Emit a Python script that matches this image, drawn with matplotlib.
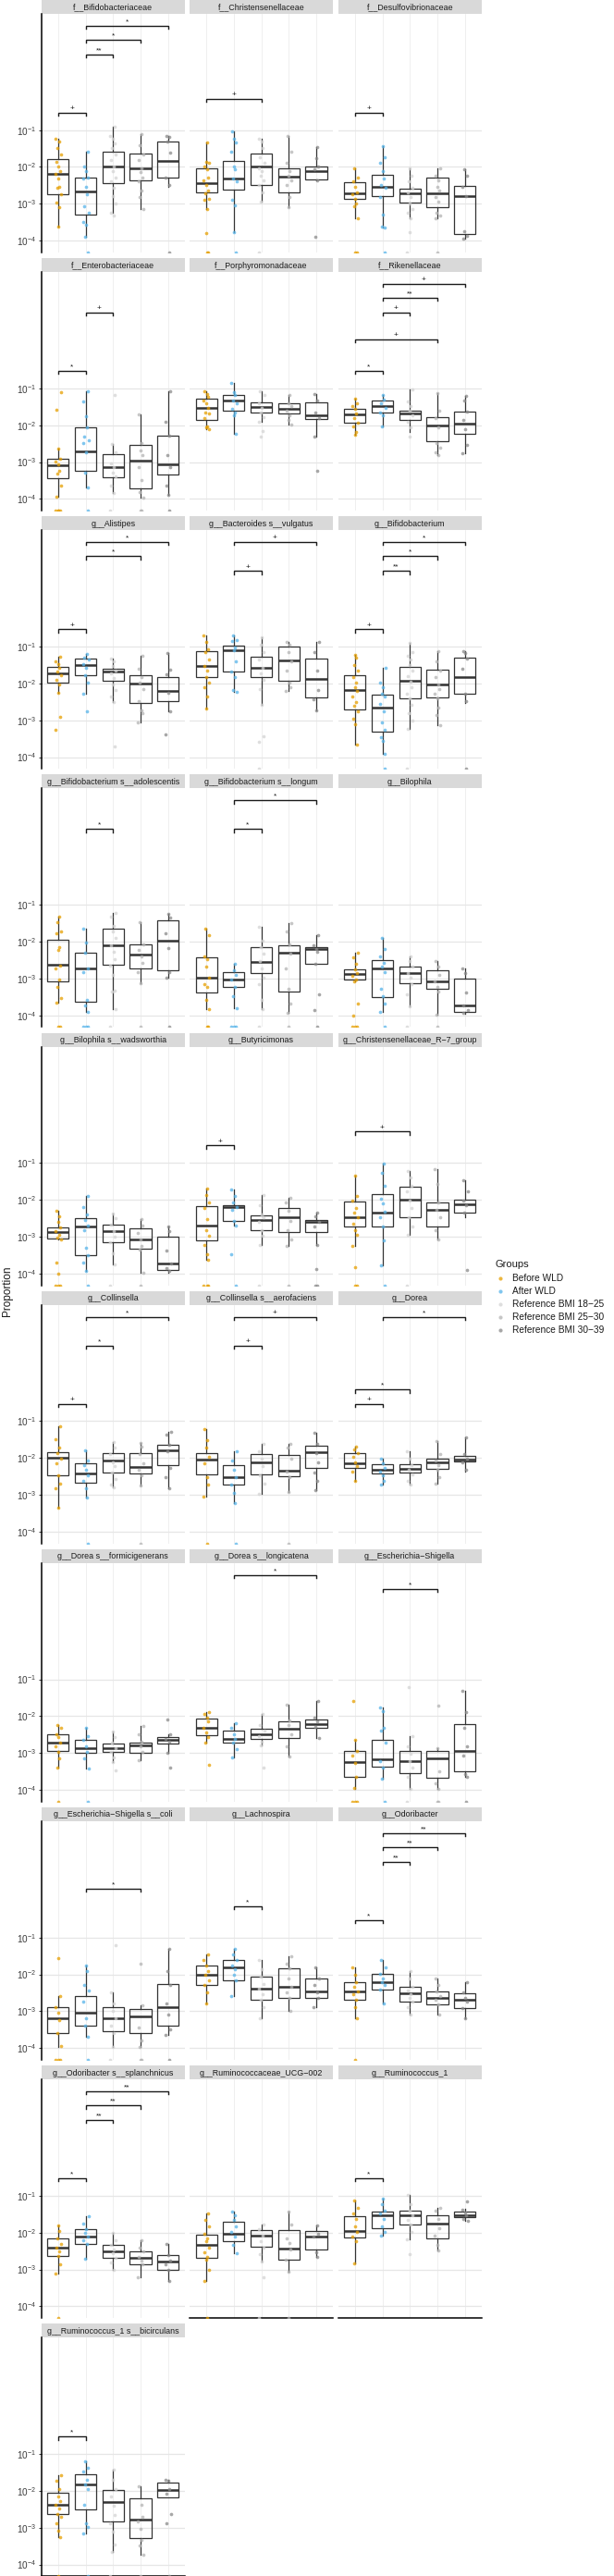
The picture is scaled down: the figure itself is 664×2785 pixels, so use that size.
import numpy as np
import matplotlib
matplotlib.use("Agg")
import matplotlib.pyplot as plt
from matplotlib.ticker import NullLocator, FixedLocator

plt.rcParams['font.family'] = ['Liberation Sans', 'DejaVu Sans']
plt.rcParams['mathtext.fontset'] = 'custom'
plt.rcParams['mathtext.rm'] = 'Liberation Sans'
plt.rcParams['mathtext.it'] = 'Liberation Sans:italic'
plt.rcParams['mathtext.bf'] = 'Liberation Sans:bold'

# ---------------- data ----------------
PANELS = ["f__Bifidobacteriaceae", "f__Christensenellaceae", "f__Desulfovibrionaceae",
          "f__Enterobacteriaceae", "f__Porphyromonadaceae", "f__Rikenellaceae",
          "g__Alistipes", "g__Bacteroides s__vulgatus", "g__Bifidobacterium",
          "g__Bifidobacterium s__adolescentis", "g__Bifidobacterium s__longum", "g__Bilophila",
          "g__Bilophila s__wadsworthia", "g__Butyricimonas", "g__Christensenellaceae_R\u22127_group",
          "g__Collinsella", "g__Collinsella s__aerofaciens", "g__Dorea",
          "g__Dorea s__formicigenerans", "g__Dorea s__longicatena", "g__Escherichia\u2212Shigella",
          "g__Escherichia\u2212Shigella s__coli", "g__Lachnospira", "g__Odoribacter",
          "g__Odoribacter s__splanchnicus", "g__Ruminococcaceae_UCG\u2212002", "g__Ruminococcus_1",
          "g__Ruminococcus_1 s__bicirculans"]
GROUPS = ["Before WLD", "After WLD", "Reference BMI 18\u221225",
          "Reference BMI 25\u221230", "Reference BMI 30\u221239"]

# box statistics, log10(proportion): [whisker low, q1, median, q3, whisker high]
BOX_B = [[-3.63,-2.73,-2.18,-1.78,-1.23],[-3.15,-2.7,-2.43,-2.03,-1.33],[-3.38,-2.86,-2.72,-2.42,-2.03],
         [-3.94,-3.43,-3.08,-2.9,-2.63],[-2.11,-1.86,-1.54,-1.29,-1.08],[-2.25,-1.93,-1.7,-1.55,-1.28],
         [-2.25,-1.99,-1.72,-1.55,-1.28],[-2.67,-1.84,-1.53,-1.12,-0.69],[-3.65,-2.72,-2.18,-1.78,-1.22],
         [-3.65,-3.08,-2.63,-1.94,-1.32],[-3.83,-3.37,-2.98,-2.44,-1.65],[-3.08,-3.04,-2.88,-2.75,-2.3],
         [-3.08,-3.04,-2.88,-2.75,-2.3],[-3.63,-3.11,-2.69,-2.18,-1.69],[-3.26,-2.72,-2.47,-2.05,-1.35],
         [-3.36,-2.47,-2.0,-1.84,-1.15],[-3.05,-2.44,-2.05,-1.88,-1.22],[-2.63,-2.27,-2.15,-1.88,-1.69],
         [-3.4,-2.95,-2.71,-2.48,-2.25],[-2.71,-2.51,-2.32,-2.07,-1.88],[-3.97,-3.65,-3.25,-2.95,-2.63],
         [-3.97,-3.6,-3.2,-2.9,-2.6],[-2.8,-2.3,-2.02,-1.76,-1.45],[-3.2,-2.69,-2.47,-2.2,-1.8],
         [-3.1,-2.64,-2.42,-2.16,-1.8],[-3.3,-2.68,-2.34,-2.05,-1.47],[-2.83,-2.14,-1.95,-1.56,-1.12],
         [-3.25,-2.62,-2.38,-2.06,-1.57]]
BOX_A = [[-3.9,-3.28,-2.67,-2.3,-1.59],[-3.78,-2.61,-2.32,-1.83,-1.03],[-3.65,-2.78,-2.54,-2.22,-1.44],
         [-3.69,-3.25,-2.72,-2.05,-1.07],[-2.23,-1.62,-1.34,-1.19,-0.86],[-2.03,-1.67,-1.49,-1.32,-1.19],
         [-2.28,-1.78,-1.51,-1.33,-1.2],[-2.23,-1.67,-1.11,-0.97,-0.69],[-3.9,-3.32,-2.65,-2.3,-1.59],
         [-3.9,-3.63,-2.73,-2.3,-1.65],[-3.8,-3.23,-3.03,-2.83,-2.61],[-3.92,-3.5,-2.72,-2.5,-1.9],
         [-3.92,-3.5,-2.72,-2.5,-1.9],[-2.71,-2.58,-2.21,-2.15,-1.73],[-3.78,-2.72,-2.36,-1.84,-1.03],
         [-3.08,-2.68,-2.43,-2.14,-1.79],[-3.22,-2.73,-2.53,-2.19,-1.83],[-2.72,-2.43,-2.32,-2.18,-2.01],
         [-3.43,-2.99,-2.88,-2.63,-2.32],[-3.13,-2.72,-2.61,-2.4,-2.19],[-3.69,-3.37,-3.17,-2.65,-1.76],
         [-3.69,-3.4,-3.05,-2.6,-1.75],[-2.6,-2.16,-1.8,-1.62,-1.3],[-2.8,-2.42,-2.2,-1.98,-1.6],
         [-2.7,-2.3,-2.1,-1.9,-1.55],[-2.55,-2.24,-2.03,-1.7,-1.43],[-2.08,-1.87,-1.52,-1.43,-1.08],
         [-3.16,-2.51,-1.83,-1.55,-1.2]]
BOX_R1 = [[-3.23,-2.44,-1.98,-1.59,-0.9],[-2.94,-2.48,-1.98,-1.63,-1.23],[-3.4,-2.97,-2.72,-2.58,-2.03],
          [-3.83,-3.41,-3.15,-2.79,-2.51],[-1.9,-1.67,-1.51,-1.37,-1.08],[-2.19,-1.86,-1.68,-1.6,-1.03],
          [-2.51,-1.92,-1.67,-1.61,-1.33],[-2.57,-1.83,-1.59,-1.29,-0.75],[-3.23,-2.4,-1.93,-1.55,-0.9],
          [-3.83,-2.63,-2.09,-1.65,-1.22],[-3.83,-2.86,-2.55,-2.15,-1.59],[-3.75,-3.14,-2.85,-2.68,-2.4],
          [-3.75,-3.14,-2.86,-2.67,-2.38],[-3.23,-2.83,-2.55,-2.42,-1.86],[-2.94,-2.48,-2.01,-1.65,-1.23],
          [-2.79,-2.39,-2.08,-1.88,-1.58],[-2.98,-2.45,-2.12,-1.9,-1.61],[-2.72,-2.4,-2.3,-2.17,-1.82],
          [-3.25,-2.97,-2.88,-2.75,-2.42],[-2.8,-2.61,-2.5,-2.34,-1.93],[-3.97,-3.55,-3.22,-2.95,-2.53],
          [-3.97,-3.55,-3.2,-2.9,-2.5],[-3.2,-2.69,-2.38,-2.07,-1.6],[-3.1,-2.73,-2.51,-2.33,-1.9],
          [-3.0,-2.69,-2.51,-2.33,-2.0],[-2.78,-2.38,-2.08,-1.93,-1.78],[-2.18,-1.78,-1.53,-1.4,-0.97],
          [-3.66,-2.84,-2.31,-1.97,-1.42]]
BOX_R2 = [[-3.13,-2.36,-2.03,-1.63,-1.11],[-3.08,-2.69,-2.26,-2.05,-1.15],[-3.4,-3.09,-2.72,-2.3,-2.05],
          [-3.97,-3.72,-2.97,-2.53,-1.72],[-1.98,-1.69,-1.55,-1.41,-1.17],[-2.82,-2.43,-2.0,-1.78,-1.12],
          [-3.07,-2.53,-2.01,-1.78,-1.25],[-2.21,-1.93,-1.38,-1.0,-0.88],[-3.13,-2.37,-2.03,-1.63,-1.12],
          [-3.13,-2.72,-2.36,-2.07,-1.47],[-3.94,-3.36,-2.29,-2.09,-1.5],[-3.98,-3.27,-3.08,-2.78,-2.53],
          [-3.98,-3.32,-3.08,-2.78,-2.53],[-3.25,-2.88,-2.48,-2.23,-1.95],[-3.08,-2.72,-2.28,-2.07,-1.17],
          [-2.75,-2.43,-2.25,-1.86,-1.59],[-2.92,-2.5,-2.34,-1.93,-1.61],[-2.69,-2.29,-2.13,-2.02,-1.55],
          [-3.2,-2.99,-2.8,-2.71,-2.27],[-3.09,-2.59,-2.34,-2.15,-1.68],[-3.97,-3.67,-3.15,-2.95,-2.88],
          [-3.97,-3.6,-3.15,-2.95,-2.85],[-3.0,-2.64,-2.33,-1.84,-1.5],[-3.1,-2.82,-2.64,-2.47,-2.1],
          [-3.2,-2.87,-2.69,-2.51,-2.2],[-3.05,-2.74,-2.43,-1.93,-1.43],[-2.49,-2.16,-1.76,-1.52,-1.34],
          [-3.74,-3.28,-2.78,-2.21,-1.88]]
BOX_R3 = [[-2.53,-2.28,-1.83,-1.3,-1.15],[-2.36,-2.33,-2.11,-1.98,-1.45],[-3.94,-3.83,-2.8,-2.51,-2.06],
          [-3.88,-3.35,-3.05,-2.29,-1.07],[-2.32,-1.83,-1.74,-1.38,-1.15],[-2.75,-2.23,-1.96,-1.63,-1.21],
          [-2.75,-2.47,-2.21,-1.84,-1.19],[-2.73,-2.38,-1.88,-1.32,-0.88],[-2.53,-2.28,-1.83,-1.3,-1.13],
          [-2.97,-2.77,-1.98,-1.42,-1.25],[-2.6,-2.6,-2.19,-2.15,-1.82],[-3.97,-3.91,-3.73,-3.0,-2.72],
          [-3.97,-3.91,-3.73,-3.0,-2.72],[-3.22,-2.87,-2.6,-2.54,-2.35],[-2.48,-2.34,-2.12,-2.0,-1.46],
          [-2.82,-2.19,-1.8,-1.64,-1.29],[-2.88,-2.26,-1.84,-1.68,-1.32],[-2.36,-2.1,-2.05,-1.94,-1.44],
          [-3.0,-2.74,-2.63,-2.57,-2.48],[-2.6,-2.32,-2.21,-2.09,-1.58],[-3.65,-3.5,-2.94,-2.22,-1.32],
          [-3.65,-3.4,-2.9,-2.25,-1.3],[-2.9,-2.64,-2.47,-2.1,-1.8],[-3.2,-2.91,-2.69,-2.51,-2.2],
          [-3.3,-3.0,-2.78,-2.6,-2.3],[-2.66,-2.45,-2.1,-1.95,-1.81],[-1.68,-1.58,-1.52,-1.43,-1.35],
          [-2.17,-2.17,-1.97,-1.77,-1.7]]

# individual samples, log10(proportion)
PTS_B = [[-1.23,-1.3,-1.48,-1.65,-1.86,-1.98,-2.11,-2.19,-2.32,-2.53,-2.57,-2.73,-2.97,-3.08,-3.63],
         [-1.33,-1.86,-1.9,-1.98,-2.07,-2.3,-2.36,-2.48,-2.65,-2.72,-2.86,-2.9,-3.15,-3.8],
         [-2.03,-2.28,-2.4,-2.53,-2.69,-2.73,-2.86,-2.98,-3.07,-3.38],
         [-1.11,-1.58,-2.63,-2.9,-2.98,-3.07,-3.23,-3.32,-3.65,-3.94],
         [-1.08,-1.15,-1.23,-1.32,-1.4,-1.54,-1.65,-1.69,-1.82,-2.03,-2.07,-2.11],
         [-1.28,-1.4,-1.48,-1.57,-1.69,-1.82,-1.94,-2.03,-2.19,-2.25],
         [-1.28,-1.4,-1.48,-1.57,-1.69,-1.78,-1.9,-2.03,-2.25,-2.92,-3.25],
         [-0.69,-0.88,-1.07,-1.15,-1.36,-1.53,-1.65,-1.82,-1.98,-2.11,-2.36,-2.67],
         [-1.22,-1.3,-1.5,-1.65,-1.84,-1.98,-2.1,-2.2,-2.35,-2.5,-2.6,-2.75,-2.95,-3.1,-3.65],
         [-1.32,-1.48,-1.73,-1.78,-2.15,-2.23,-2.65,-2.73,-3.03,-3.23,-3.53,-3.65],
         [-1.65,-1.82,-2.4,-2.48,-2.69,-2.98,-3.15,-3.23,-3.57,-3.83],
         [-2.3,-2.44,-2.61,-2.75,-2.86,-2.94,-3.03,-3.08,-3.69,-4.0],
         [-2.3,-2.45,-2.6,-2.75,-2.85,-2.95,-3.02,-3.08,-3.7,-4.0],
         [-1.69,-1.86,-2.07,-2.23,-2.53,-2.82,-2.98,-3.23,-3.47,-3.63],
         [-1.35,-1.9,-2.03,-2.23,-2.36,-2.48,-2.65,-2.82,-2.94,-3.26,-3.82],
         [-1.15,-1.5,-1.73,-1.86,-2.03,-2.15,-2.48,-2.69,-2.82,-3.36],
         [-1.22,-1.53,-1.73,-1.98,-2.15,-2.53,-2.73,-3.05],
         [-1.69,-1.78,-1.86,-1.98,-2.11,-2.23,-2.36,-2.63],
         [-2.25,-2.32,-2.48,-2.57,-2.73,-2.82,-2.98,-3.15,-3.4],
         [-1.88,-1.94,-2.03,-2.15,-2.32,-2.44,-2.57,-2.71,-3.32],
         [-1.58,-2.63,-2.94,-3.07,-3.28,-3.65,-3.94],
         [-1.55,-2.6,-2.9,-3.05,-3.25,-3.6,-3.95],
         [-1.45,-1.6,-1.76,-1.9,-2.02,-2.15,-2.3,-2.5,-2.8],
         [-1.8,-2.0,-2.2,-2.35,-2.47,-2.55,-2.69,-2.9,-3.2],
         [-1.8,-1.95,-2.16,-2.3,-2.42,-2.5,-2.64,-2.85,-3.1],
         [-1.47,-1.66,-1.83,-2.03,-2.16,-2.24,-2.41,-2.53,-2.66,-2.74,-3.0,-3.3],
         [-1.12,-1.33,-1.49,-1.62,-1.83,-1.99,-2.12,-2.24,-2.83],
         [-1.57,-1.74,-1.95,-2.16,-2.28,-2.37,-2.49,-2.62,-2.7,-2.87,-3.08,-3.25]]
PTS_A = [[-1.59,-1.98,-2.11,-2.28,-2.32,-2.53,-2.73,-3.07,-3.23,-3.48,-3.57,-3.9],
         [-1.03,-1.23,-1.33,-1.58,-1.98,-2.07,-2.32,-2.4,-2.9,-3.03,-3.78],
         [-1.44,-1.73,-1.9,-2.11,-2.32,-2.48,-2.57,-2.82,-3.28,-3.61,-3.65],
         [-1.07,-1.36,-1.76,-2.07,-2.32,-2.4,-2.48,-2.73,-3.28,-3.69],
         [-0.86,-1.11,-1.19,-1.32,-1.4,-1.57,-1.65,-1.73,-2.23],
         [-1.19,-1.3,-1.4,-1.53,-1.65,-1.73,-2.03],
         [-1.2,-1.3,-1.36,-1.48,-1.57,-1.78,-1.98,-2.28,-2.75],
         [-0.69,-0.82,-0.86,-1.03,-1.11,-1.4,-1.69,-1.82,-2.19,-2.23],
         [-1.59,-1.98,-2.1,-2.28,-2.35,-2.55,-2.75,-3.05,-3.25,-3.45,-3.55,-3.9],
         [-1.65,-2.03,-2.3,-2.73,-2.82,-3.57,-3.73,-3.9],
         [-2.61,-2.78,-2.9,-3.03,-3.23,-3.48,-3.8],
         [-1.9,-2.19,-2.4,-2.57,-2.69,-2.82,-3.28,-3.48,-3.69,-3.92],
         [-1.9,-2.2,-2.4,-2.55,-2.7,-2.82,-3.3,-3.5,-3.7,-3.92],
         [-1.73,-1.9,-2.07,-2.19,-2.28,-2.57,-2.71,-3.47],
         [-1.03,-1.28,-1.61,-1.98,-2.11,-2.32,-2.48,-2.73,-3.11,-3.78],
         [-1.79,-2.07,-2.19,-2.32,-2.48,-2.61,-2.82,-3.08],
         [-1.83,-2.07,-2.32,-2.53,-2.73,-2.94,-3.22],
         [-2.01,-2.15,-2.28,-2.36,-2.48,-2.61,-2.72],
         [-2.32,-2.53,-2.65,-2.82,-2.98,-3.15,-3.43],
         [-2.19,-2.32,-2.48,-2.61,-2.73,-2.9,-3.13],
         [-1.76,-1.86,-2.32,-2.4,-2.73,-3.23,-3.4,-3.69],
         [-1.75,-1.9,-2.3,-2.45,-2.75,-3.2,-3.4,-3.69],
         [-1.3,-1.45,-1.62,-1.75,-1.85,-2.0,-2.16,-2.6],
         [-1.6,-1.8,-1.98,-2.1,-2.2,-2.3,-2.42,-2.8],
         [-1.55,-1.75,-1.9,-2.0,-2.1,-2.2,-2.3,-2.7],
         [-1.43,-1.53,-1.66,-1.83,-1.99,-2.12,-2.33,-2.55],
         [-1.08,-1.24,-1.41,-1.49,-1.62,-1.83,-1.99,-2.08],
         [-1.2,-1.37,-1.49,-1.7,-1.83,-1.95,-2.37,-2.87,-2.99,-3.16]]
PTS_R1 = [[-0.9,-1.15,-1.23,-1.36,-1.48,-1.65,-1.82,-1.98,-2.11,-2.28,-2.4,-2.57,-2.78,-2.98,-3.23,-3.32],
          [-1.23,-1.32,-1.48,-1.73,-1.9,-2.03,-2.11,-2.23,-2.36,-2.48,-2.69,-2.94],
          [-2.03,-2.23,-2.4,-2.57,-2.69,-2.82,-2.98,-3.15,-3.23,-3.4,-3.78],
          [-1.17,-2.51,-2.73,-3.03,-3.15,-3.28,-3.4,-3.65,-3.83],
          [-1.08,-1.19,-1.4,-1.53,-1.65,-1.78,-1.9,-2.17,-2.3],
          [-1.03,-1.36,-1.48,-1.61,-1.73,-1.9,-2.07,-2.32],
          [-1.33,-1.4,-1.53,-1.65,-1.73,-1.86,-2.03,-2.19,-2.36,-2.51,-3.72],
          [-0.75,-0.94,-1.15,-1.36,-1.57,-1.73,-1.9,-2.15,-2.57,-3.43,-3.58],
          [-0.9,-1.15,-1.25,-1.36,-1.5,-1.65,-1.8,-1.95,-2.1,-2.28,-2.4,-2.57,-2.8,-3.0,-3.23],
          [-1.22,-1.32,-1.57,-1.73,-1.9,-2.11,-2.28,-2.48,-2.65,-2.9,-3.32,-3.36,-3.83],
          [-1.59,-1.98,-2.15,-2.32,-2.53,-2.73,-2.98,-3.15,-3.57,-3.83],
          [-2.4,-2.53,-2.69,-2.86,-2.98,-3.15,-3.44,-3.75],
          [-2.38,-2.5,-2.68,-2.86,-3.0,-3.15,-3.45,-3.75],
          [-1.86,-2.15,-2.4,-2.48,-2.61,-2.82,-2.98,-3.23],
          [-1.23,-1.4,-1.61,-1.78,-2.03,-2.23,-2.48,-2.73,-2.94],
          [-1.58,-1.73,-1.9,-2.11,-2.23,-2.4,-2.57,-2.73,-2.79],
          [-1.61,-1.82,-2.03,-2.23,-2.48,-2.69,-2.98],
          [-1.82,-2.03,-2.19,-2.32,-2.44,-2.61,-2.72],
          [-2.42,-2.57,-2.73,-2.86,-2.98,-3.11,-3.25,-3.47],
          [-1.93,-2.23,-2.4,-2.53,-2.69,-2.8,-3.4],
          [-1.21,-2.53,-2.82,-3.03,-3.23,-3.4,-3.65,-3.97],
          [-1.2,-2.5,-2.8,-3.0,-3.2,-3.4,-3.6,-3.97],
          [-1.6,-1.85,-2.07,-2.25,-2.4,-2.55,-2.69,-2.9,-3.2],
          [-1.9,-2.1,-2.33,-2.45,-2.55,-2.65,-2.73,-2.9,-3.1],
          [-2.0,-2.2,-2.33,-2.45,-2.55,-2.69,-2.8,-3.0],
          [-1.78,-1.91,-2.08,-2.24,-2.41,-2.58,-2.78,-3.2],
          [-0.97,-1.24,-1.41,-1.53,-1.66,-1.78,-1.99,-2.18,-2.58],
          [-1.42,-1.7,-1.95,-2.16,-2.41,-2.66,-2.87,-3.12,-3.45,-3.66]]
PTS_R2 = [[-1.11,-1.4,-1.65,-1.82,-2.03,-2.15,-2.28,-2.4,-2.65,-2.82,-3.13],
          [-1.15,-1.58,-1.9,-2.11,-2.23,-2.36,-2.48,-2.82,-3.08],
          [-2.05,-2.23,-2.36,-2.53,-2.65,-2.82,-2.94,-3.23,-3.32,-3.4],
          [-1.72,-2.48,-2.69,-2.82,-3.15,-3.48,-3.82,-3.97],
          [-1.17,-1.4,-1.48,-1.61,-1.73,-1.86,-1.98],
          [-1.12,-1.61,-1.82,-2.07,-2.48,-2.61,-2.73,-2.82],
          [-1.25,-1.61,-1.82,-1.98,-2.15,-2.48,-2.73,-2.82,-3.07],
          [-0.88,-0.94,-1.15,-1.4,-1.65,-1.98,-2.11,-2.21],
          [-1.12,-1.4,-1.65,-1.82,-2.03,-2.15,-2.28,-2.4,-2.65,-2.85,-3.13],
          [-1.47,-2.07,-2.23,-2.4,-2.57,-2.82,-3.13],
          [-1.5,-1.73,-2.07,-2.32,-2.73,-3.28,-3.69,-3.94],
          [-2.53,-2.69,-2.9,-3.07,-3.23,-3.36,-3.98],
          [-2.53,-2.7,-2.9,-3.07,-3.25,-3.36,-3.98],
          [-1.95,-2.07,-2.3,-2.57,-2.82,-3.07,-3.25],
          [-1.17,-1.58,-2.07,-2.28,-2.48,-2.82,-3.08],
          [-1.59,-1.69,-1.9,-2.15,-2.32,-2.48,-2.75],
          [-1.61,-1.73,-2.03,-2.36,-2.53,-2.92],
          [-1.55,-1.9,-2.07,-2.19,-2.32,-2.53,-2.69],
          [-2.27,-2.48,-2.69,-2.82,-2.98,-3.2],
          [-1.68,-2.11,-2.23,-2.48,-2.82,-3.09],
          [-1.72,-2.88,-3.5,-3.82,-3.97],
          [-1.7,-2.85,-3.45,-3.8,-3.97],
          [-1.5,-1.7,-1.84,-2.1,-2.35,-2.5,-2.64,-3.0],
          [-2.1,-2.3,-2.47,-2.6,-2.7,-2.82,-3.1],
          [-2.2,-2.4,-2.51,-2.65,-2.75,-2.87,-3.2],
          [-1.43,-1.78,-2.16,-2.28,-2.45,-2.74,-3.05],
          [-1.34,-1.41,-1.62,-1.87,-2.08,-2.33,-2.49],
          [-1.88,-2.37,-2.7,-2.83,-3.03,-3.33,-3.49,-3.74]]
PTS_R3 = [[-1.15,-1.19,-1.32,-1.61,-2.28,-2.48],
          [-1.45,-1.75,-1.98,-2.07,-2.36,-3.9],
          [-2.06,-2.25,-2.55,-2.8,-3.75,-3.88,-3.94],
          [-1.07,-1.9,-2.29,-2.8,-3.15,-3.65,-3.88],
          [-1.15,-1.33,-1.65,-1.82,-2.32,-3.23],
          [-1.21,-1.32,-1.63,-1.86,-2.11,-2.53,-2.75],
          [-1.19,-1.63,-1.75,-2.25,-2.75,-3.38],
          [-0.88,-1.15,-1.65,-2.19,-2.44,-2.73],
          [-1.13,-1.19,-1.32,-1.61,-2.28,-2.48],
          [-1.25,-1.36,-1.78,-2.18,-2.82,-2.97],
          [-1.82,-2.11,-2.19,-2.28,-2.6,-3.44,-3.86],
          [-2.72,-2.86,-3.38,-3.73,-3.86,-3.94],
          [-2.72,-2.86,-3.38,-3.73,-3.86,-3.94],
          [-2.35,-2.44,-2.6,-2.73,-3.22,-3.88],
          [-1.46,-1.78,-2.03,-2.15,-2.36,-3.9],
          [-1.29,-1.36,-1.65,-1.82,-2.28,-2.53,-2.82],
          [-1.32,-1.61,-1.86,-2.11,-2.4,-2.61,-2.88],
          [-1.44,-1.9,-2.03,-2.11,-2.32],
          [-2.08,-2.48,-2.61,-2.69,-3.0,-3.4],
          [-1.58,-2.03,-2.15,-2.28,-2.6],
          [-1.32,-1.9,-2.32,-2.82,-3.07,-3.57,-3.65],
          [-1.3,-1.9,-2.3,-2.8,-3.1,-3.5,-3.65],
          [-1.8,-2.1,-2.3,-2.5,-2.64,-2.9],
          [-2.2,-2.5,-2.65,-2.75,-2.91,-3.2],
          [-2.3,-2.6,-2.75,-2.85,-3.0,-3.3],
          [-1.81,-2.03,-2.12,-2.53,-2.66],
          [-1.16,-1.37,-1.45,-1.53,-1.62,-1.68],
          [-1.7,-1.74,-1.95,-2.08,-2.62,-2.89]]
# samples with zero abundance per panel and group
ZEROS = [[0,1,0,0,1],[2,1,1,0,0],[2,1,1,1,0],[4,1,1,2,1],[0,0,0,0,0],[0,0,0,0,0],[0,0,0,0,0],
         [0,0,1,0,0],[0,1,1,0,1],[2,3,1,1,1],[2,3,1,1,1],[3,1,1,1,0],[3,1,1,1,0],[3,1,1,1,2],
         [2,1,1,0,0],[0,1,0,1,0],[1,1,0,1,0],[0,0,0,0,0],[1,1,0,0,0],[0,0,0,0,0],[3,1,1,2,1],
         [3,1,1,2,1],[0,0,0,0,0],[1,0,0,0,0],[1,0,0,0,0],[1,0,1,1,0],[0,0,0,0,0],[1,1,1,1,1]]

# significance brackets
BR_PANEL = [0,0,0,0, 1, 2, 3,3, 5,5,5,5,5, 6,6,6, 7,7, 8,8,8,8, 9, 10,10, 13, 14,
            15,15,15, 16,16, 17,17,17, 19, 20, 21, 22, 23,23,23,23, 24,24,24,24, 26, 27]
BR_FROM  = [1,2,2,2, 1, 1, 1,2, 1,1,2,2,2, 1,2,2, 2,2, 1,2,2,2, 2, 2,2, 1, 1,
            1,2,2, 2,2, 1,1,2, 2, 2, 2, 2, 1,2,2,2, 1,2,2,2, 1, 1]
BR_TO    = [2,3,4,5, 3, 2, 2,3, 2,4,3,4,5, 2,4,5, 3,5, 2,3,4,5, 3, 3,5, 2, 3,
            2,3,5, 3,5, 2,3,5, 5, 4, 4, 3, 2,3,4,5, 2,3,4,5, 2, 2]
BR_LABEL = ['+','**','*','*', '+', '+', '*','+', '*','+','+','**','+', '+','*','*', '+','+',
            '+','**','*','*', '*', '*','*', '+', '+', '+','*','*', '+','+', '+','*','*', '*', '*', '*', '*',
            '*','**','**','**', '*','**','**','**', '*', '*']
BR_Y     = [-0.53,1.05,1.45,1.83, -0.15, -0.53, -0.53,1.05, -0.53,0.33,1.05,1.45,1.83,
            -0.53,1.45,1.83, 1.05,1.83, -0.53,1.05,1.45,1.83, 1.05, 1.05,1.83, -0.53, -0.15,
            -0.53,1.05,1.83, 1.05,1.83, -0.53,-0.15,1.83, 1.83, 1.45, 0.33, -0.15,
            -0.53,1.05,1.45,1.83, -0.53,1.05,1.45,1.83, -0.53, -0.53]

# ---------------- style ----------------
COLORS = ["#E69F00", "#56B4E9", "#D4D4D4", "#B4B4B4", "#8A8A8A"]
BOXES = [BOX_B, BOX_A, BOX_R1, BOX_R2, BOX_R3]
POINTS = [PTS_B, PTS_A, PTS_R1, PTS_R2, PTS_R3]
JIT = [-0.08, 0.04, -0.02, 0.09, -0.06, 0.02, 0.07, -0.1, 0.0, 0.05, -0.04, 0.1, -0.07, 0.03, -0.01, 0.08]

W, H = 664, 2785
DPI = 100
fig = plt.figure(figsize=(W / DPI, H / DPI), dpi=DPI)

def px_axes(x, y, w, h):
    return fig.add_axes([x / W, 1 - (y + h) / H, w / W, h / H])

COL_X = [45, 205.3, 366]
PW = 154.5
ROW_P = 279.15
STRIP_H = 15
PH = 258
YLO, YHI = -4.32, 2.15
ncol = 3
npan = len(PANELS)
last_in_col = {}
for i in range(npan):
    last_in_col[i % ncol] = i

panel_axes = []
for i, title in enumerate(PANELS):
    r, c = divmod(i, ncol)
    x0 = COL_X[c]
    y0 = r * ROW_P
    # strip
    sax = px_axes(x0, y0, PW, STRIP_H)
    sax.set_facecolor("#D9D9D9")
    sax.set_xticks([]); sax.set_yticks([])
    for s in sax.spines.values():
        s.set_visible(False)
    sax.text(0.5, 0.47, title, ha="center", va="center", fontsize=6.4, color="#1A1A1A",
             transform=sax.transAxes)
    # panel
    ax = px_axes(x0, y0 + STRIP_H, PW, PH)
    panel_axes.append(ax)
    ax.set_yscale("log")
    ax.set_ylim(10 ** YLO, 10 ** YHI)
    ax.set_xlim(0.4, 5.6)
    ax.set_facecolor("white")
    ax.yaxis.set_major_locator(FixedLocator([1e-4, 1e-3, 1e-2, 1e-1]))
    ax.yaxis.set_minor_locator(NullLocator())
    ax.set_xticks([1, 2, 3, 4, 5])
    ax.set_xticklabels([])
    ax.grid(True, axis="y", color="#E6E6E6", lw=0.9, zorder=0)
    ax.grid(True, axis="x", color="#EBEBEB", lw=0.55, zorder=0)
    ax.set_axisbelow(True)
    for s in ax.spines.values():
        s.set_visible(False)
    ax.tick_params(axis="x", length=0)
    if c == 0:
        ax.spines["left"].set_visible(True)
        ax.spines["left"].set_color("black")
        ax.spines["left"].set_linewidth(1.1)
        ax.tick_params(axis="y", length=2.2, width=0.7, color="#333333", labelsize=7.2,
                       labelcolor="#3A3A3A", pad=2)
        ax.set_yticklabels([r"$10^{-4}$", r"$10^{-3}$", r"$10^{-2}$", r"$10^{-1}$"])
    else:
        ax.tick_params(axis="y", length=0, labelleft=False)
    if last_in_col[c] == i:
        ax.spines["bottom"].set_visible(True)
        ax.spines["bottom"].set_color("black")
        ax.spines["bottom"].set_linewidth(1.1)

    stats = []
    for g in range(5):
        wl, q1, md, q3, wh = BOXES[g][i]
        stats.append(dict(whislo=10 ** wl, q1=10 ** q1, med=10 ** md, q3=10 ** q3,
                          whishi=10 ** wh, fliers=[]))
    ax.bxp(stats, positions=[1, 2, 3, 4, 5], widths=0.78, showcaps=False, showfliers=False,
           patch_artist=True,
           boxprops=dict(facecolor="none", edgecolor="#333333", linewidth=0.9),
           medianprops=dict(color="#333333", linewidth=1.8, solid_capstyle="butt"),
           whiskerprops=dict(color="#333333", linewidth=0.9), manage_ticks=False, zorder=2)

    for g in range(5):
        vals = POINTS[g][i]
        xs = [g + 1 + JIT[(k + 3 * g + i) % len(JIT)] for k in range(len(vals))]
        ys = [10 ** v for v in vals]
        nz = ZEROS[i][g]
        xs += [g + 1 + JIT[(k + 5 + g) % len(JIT)] for k in range(nz)]
        ys += [10 ** YLO] * nz
        ax.scatter(xs, ys, s=7, color=COLORS[g], alpha=0.75, linewidths=0, zorder=3)

for p, a, b, lab, yv in zip(BR_PANEL, BR_FROM, BR_TO, BR_LABEL, BR_Y):
    ax = panel_axes[p]
    tip = 0.085
    ax.plot([a, a, b, b], [10 ** (yv - tip), 10 ** yv, 10 ** yv, 10 ** (yv - tip)],
            color="#1A1A1A", lw=1.0, zorder=4, solid_joinstyle="miter")
    ax.text((a + b) / 2, 10 ** (yv + 0.015), lab, ha="center", va="bottom", fontsize=6,
            color="#1A1A1A", zorder=4)

# y axis title
fig.text(8 / W, 1 - 1396 / H, "Proportion", rotation=90, ha="center", va="center",
         fontsize=8.5, color="#1A1A1A")

# legend
lax = px_axes(528, 1355, 136, 95)
lax.set_xlim(528, 664)
lax.set_ylim(1450, 1355)
lax.axis("off")
lax.text(535, 1367, "Groups", fontsize=8, va="center", ha="left", color="#1A1A1A")
for g, name in enumerate(GROUPS):
    yy = 1382 + 14 * g
    lax.scatter([541], [yy], s=9, color=COLORS[g], alpha=0.75, linewidths=0)
    lax.text(554, yy, name, fontsize=7.3, va="center", ha="left", color="#1A1A1A")

fig.savefig("out.png", dpi=DPI)
